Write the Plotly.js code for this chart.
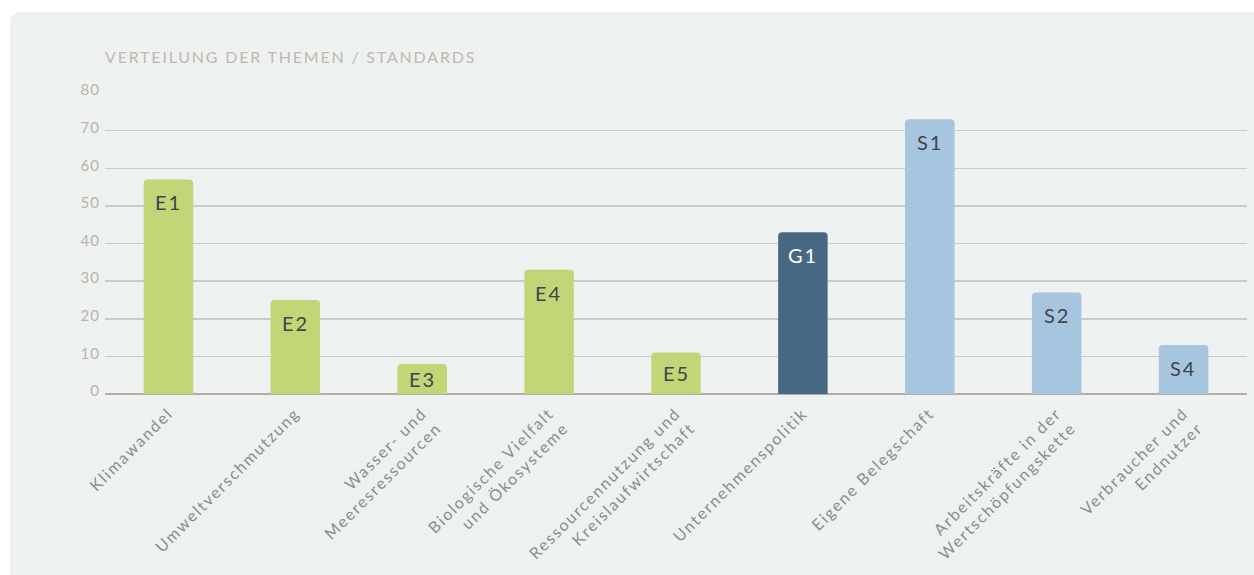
<!DOCTYPE html>
<html><head><meta charset="utf-8">
<script src="https://cdn.plot.ly/plotly-3.0.1.min.js"></script>
<style>
html,body{margin:0;padding:0;background:#fff;width:1254px;height:575px;overflow:hidden;}
#card{position:absolute;left:10px;top:12px;right:0;bottom:0;background:#edf1f0;border-top-left-radius:9px;}
#chart{position:absolute;left:0;top:0;width:1254px;height:575px;}
#chart .gtitle{letter-spacing:1.8px;}
#chart .xtick text{letter-spacing:1.8px;}
#chart .ytick text{letter-spacing:1px;}
#chart .annotation-text{letter-spacing:2px;}
</style></head><body>
<div id="card"></div><div id="chart"></div>
<script>
const chartTitle = 'VERTEILUNG DER THEMEN / STANDARDS';
const categories = [
  'Klimawandel',
  'Umweltverschmutzung',
  'Wasser- und<br>Meeresressourcen',
  'Biologische Vielfalt<br>und Ökosysteme',
  'Ressourcennutzung und<br>Kreislaufwirtschaft',
  'Unternehmenspolitik',
  'Eigene Belegschaft',
  'Arbeitskräfte in der<br>Wertschöpfungskette',
  'Verbraucher und<br>Endnutzer'
];
const values = [57, 25, 8, 33, 11, 43, 73, 27, 13];
const codes = ['E1', 'E2', 'E3', 'E4', 'E5', 'G1', 'S1', 'S2', 'S4'];
const barColors = ['#c3d677','#c3d677','#c3d677','#c3d677','#c3d677','#476882','#a7c5de','#a7c5de','#a7c5de'];
const codeColors = ['#41444a','#41444a','#41444a','#41444a','#41444a','#ffffff','#41444a','#41444a','#41444a'];
const yTickValues = [0, 10, 20, 30, 40, 50, 60, 70, 80];

const FONT = 'Lato, "Open Sans", sans-serif';

const trace = {
  type: 'bar',
  x: categories,
  y: values,
  marker: {color: barColors, line: {width: 0}},
  hoverinfo: 'skip'
};

const annotations = codes.map((c, i) => ({
  x: categories[i],
  y: Math.max(values[i] - 6.1, values[i] / 2),
  xref: 'x', yref: 'y',
  text: c,
  showarrow: false,
  xanchor: 'center', yanchor: 'middle',
  font: {family: FONT, size: 20, color: codeColors[i]}
}));

const layout = {
  width: 1254, height: 575,
  paper_bgcolor: 'rgba(0,0,0,0)',
  plot_bgcolor: 'rgba(0,0,0,0)',
  margin: {l: 105, r: 7, t: 93, b: 181},
  showlegend: false,
  bargap: 0.61,
  barcornerradius: 4,
  title: {
    text: chartTitle,
    x: 0, xref: 'paper', xanchor: 'left',
    y: 1 - 57/575, yref: 'container', yanchor: 'middle',
    font: {family: FONT, size: 16, color: '#c2b7af'}
  },
  xaxis: {
    type: 'category',
    tickangle: -45,
    ticks: '',
    showgrid: false,
    showline: false,
    zeroline: false,
    ticklabelstandoff: 6,
    tickfont: {family: FONT, size: 16, color: '#8b8c90'}
  },
  yaxis: {
    range: [0, 80],
    tickvals: yTickValues,
    ticktext: yTickValues.map(String),
    ticks: '',
    showgrid: true,
    gridcolor: '#c9ccce',
    gridwidth: 1.5,
    zeroline: true,
    zerolinecolor: '#b8aca4',
    zerolinewidth: 2,
    showline: false,
    ticklabelstandoff: 4,
    ticklabelshift: -3,
    tickfont: {family: FONT, size: 15, color: '#bdb2aa'}
  },
  annotations: annotations
};

Plotly.newPlot('chart', [trace], layout, {displayModeBar: false, staticPlot: true, responsive: false});
</script>
</body></html>
